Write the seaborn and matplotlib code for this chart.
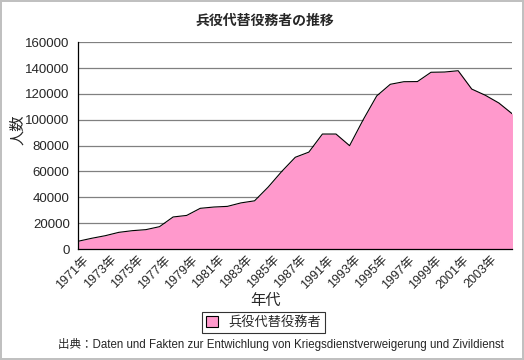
import matplotlib
matplotlib.use("Agg")
import matplotlib.pyplot as plt
import matplotlib.transforms as mtransforms
import numpy as np
import seaborn as sns
from matplotlib.patches import Patch

# data
years = ['1971年', '1972年', '1973年', '1974年', '1975年', '1976年', '1977年', '1978年',
         '1979年', '1980年', '1981年', '1982年', '1983年', '1984年', '1985年', '1986年',
         '1987年', '1989年', '1991年', '1992年', '1993年', '1994年', '1995年', '1996年',
         '1997年', '1998年', '1999年', '2000年', '2001年', '2002年', '2003年', '2004年',
         '2005年']
persons = [6000, 8300, 10300, 12900, 14200, 15000, 17300, 24800, 26000, 31500,
           32500, 33000, 35700, 37300, 47900, 60000, 71000, 75000, 89000, 89000,
           80000, 100000, 118500, 127500, 129500, 129600, 136800, 137000, 138000,
           123800, 119000, 113000, 104500]
shown_labels = ['1971年', '1973年', '1975年', '1977年', '1979年', '1981年', '1983年',
                '1985年', '1987年', '1991年', '1993年', '1995年', '1997年', '1999年',
                '2001年', '2003年']
yticks = [0, 20000, 40000, 60000, 80000, 100000, 120000, 140000, 160000]

series_name = '兵役代替役務者'
title = '兵役代替役務者の推移'
source = '出典：Daten und Fakten zur Entwichlung von Kriegsdienstverweigerung und Zivildienst'

sns.set_style("white")
plt.rcParams['font.family'] = ['Liberation Sans', 'Noto Sans CJK JP']

fig = plt.figure(figsize=(5.24, 3.6), dpi=100, edgecolor='#c0c0c0', linewidth=1.5)
ax = fig.add_axes([0.149, 0.3083, 0.829, 0.5742])

x = np.arange(len(years))
ax.fill_between(x, persons, 0, color='#FF99CC', lw=0, zorder=2)
sns.lineplot(x=x, y=persons, color='black', lw=0.8, ax=ax, zorder=3)

ax.set_xlim(0, len(years) - 1)
ax.set_ylim(0, 160000)
ax.set_yticks(yticks)
ax.set_yticklabels([str(v) for v in yticks], fontsize=9.5)
ax.yaxis.grid(True, color='#808080', lw=0.9)
ax.set_axisbelow(True)

ax.set_xticks(x)
ax.set_xticklabels([y if y in shown_labels else '' for y in years],
                   rotation=45, ha='right', rotation_mode='anchor', fontsize=9)
ax.tick_params(axis='x', length=3, width=0.8, color='black', pad=0.5, direction='out')
ax.tick_params(axis='y', length=0, pad=6)
shift = mtransforms.ScaledTranslation(5 / 100, 0, fig.dpi_scale_trans)
for lbl in ax.get_xticklabels():
    lbl.set_transform(lbl.get_transform() + shift)

for side in ['top', 'right']:
    ax.spines[side].set_visible(False)
ax.spines['left'].set_color('black')
ax.spines['bottom'].set_color('black')
ax.spines['left'].set_linewidth(0.9)
ax.spines['bottom'].set_linewidth(0.9)

fig.text(0.506, 0.943, title, ha='center', va='center', fontsize=10, fontweight='bold')
fig.text(0.035, 0.64, '人数', ha='center', va='center', rotation=90, fontsize=11)
fig.text(0.506, 0.163, '年代', ha='center', va='center', fontsize=11)
fig.text(0.111, 0.042, source, ha='left', va='center', fontsize=8.3)

handle = Patch(facecolor='#FF99CC', edgecolor='black', lw=0.8)
leg = fig.legend([handle], [series_name], loc='center', bbox_to_anchor=(0.503, 0.104),
                 fontsize=9.5, frameon=True, fancybox=False, handlelength=0.9,
                 handleheight=0.9, borderpad=0.3, handletextpad=0.8)
leg.get_frame().set_edgecolor('black')
leg.get_frame().set_linewidth(0.8)

fig.savefig('out.png', dpi=100)
